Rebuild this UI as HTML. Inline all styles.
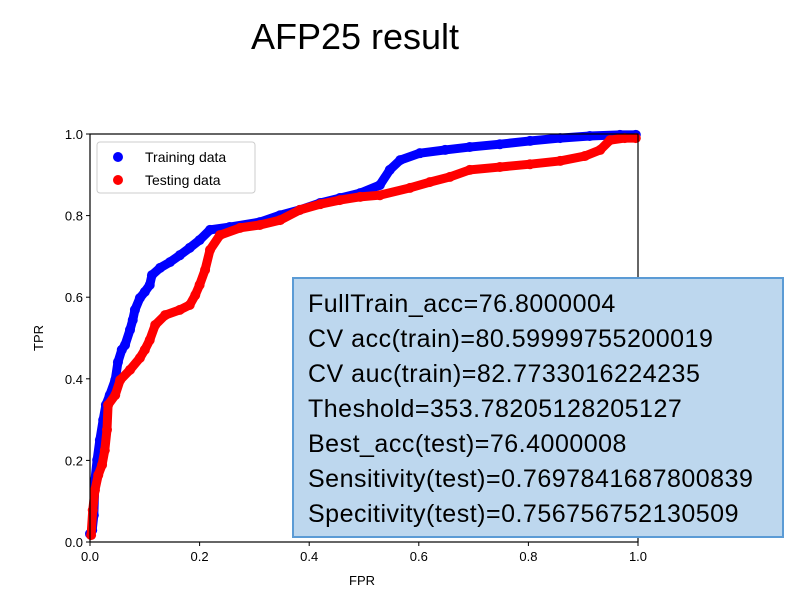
<!DOCTYPE html>
<html><head><meta charset="utf-8"><style>
body{margin:0;background:#fff;}
#wrap{position:relative;width:787px;height:600px;overflow:hidden;font-family:"Liberation Sans",sans-serif;}
#title{position:absolute;left:0;width:710px;top:16px;text-align:center;font-size:36px;color:#000;}
#box{position:absolute;left:292px;top:277px;width:492px;height:261px;background:#bdd7ee;border:2px solid #5b9bd5;box-sizing:border-box;padding:8px 0 0 14px;font-size:25px;letter-spacing:0.5px;line-height:35px;color:#000;white-space:nowrap;}
</style></head><body>
<div id="wrap">
<div id="title">AFP25 result</div>
<svg id="chart" width="787" height="600" style="position:absolute;left:0;top:0"></svg>
<div id="box">
<div>FullTrain_acc=76.8000004</div>
<div>CV acc(train)=80.59999755200019</div>
<div>CV auc(train)=82.7733016224235</div>
<div>Theshold=353.78205128205127</div>
<div>Best_acc(test)=76.4000008</div>
<div>Sensitivity(test)=0.7697841687800839</div>
<div>Specitivity(test)=0.756756752130509</div>
</div>
</div>
<script>
const trainFPR=[0,0.004,0.007,0.009,0.013,0.018,0.024,0.029,0.036,0.046,0.051,0.058,0.064,0.073,0.078,0.082,0.091,0.1,0.109,0.113,0.128,0.146,0.164,0.182,0.2,0.219,0.255,0.31,0.347,0.383,0.42,0.456,0.493,0.529,0.547,0.566,0.602,0.648,0.693,0.748,0.803,0.858,0.912,0.967,0.996];
const trainTPR=[0.02,0.029,0.066,0.152,0.201,0.25,0.299,0.336,0.36,0.397,0.441,0.471,0.483,0.52,0.544,0.569,0.598,0.613,0.63,0.654,0.672,0.686,0.703,0.721,0.74,0.765,0.772,0.784,0.801,0.814,0.831,0.843,0.855,0.875,0.912,0.936,0.953,0.961,0.968,0.975,0.983,0.99,0.995,0.998,0.998];
const testFPR=[0.002,0.005,0.009,0.015,0.022,0.027,0.031,0.033,0.046,0.055,0.073,0.091,0.1,0.109,0.119,0.137,0.164,0.182,0.192,0.2,0.21,0.219,0.237,0.274,0.31,0.347,0.383,0.42,0.456,0.493,0.529,0.584,0.62,0.657,0.693,0.748,0.803,0.858,0.903,0.931,0.949,0.976,0.996];
const testTPR=[0.017,0.078,0.127,0.164,0.189,0.225,0.275,0.336,0.36,0.397,0.422,0.451,0.471,0.495,0.532,0.556,0.569,0.581,0.605,0.63,0.667,0.716,0.752,0.77,0.777,0.789,0.814,0.828,0.838,0.846,0.85,0.868,0.882,0.895,0.912,0.919,0.926,0.934,0.946,0.961,0.985,0.99,0.99];
const xTicks=[0,0.2,0.4,0.6,0.8,1.0];
const yTicks=[0,0.2,0.4,0.6,0.8,1.0];
const tickLabels=["0.0","0.2","0.4","0.6","0.8","1.0"];
const NS="http://www.w3.org/2000/svg";
const svg=document.getElementById('chart');
const X0=90,X1=638,Y0=542,Y1=134;
const sx=v=>X0+v*(X1-X0), sy=v=>Y0-v*(Y0-Y1);
function mk(t,a,p){const e=document.createElementNS(NS,t);for(const k in a)e.setAttribute(k,a[k]);(p||svg).appendChild(e);return e;}
function series(xs,ys,col,name){
  const g=mk('g',{});
  
  
  mk('polyline',{points:xs.map((x,i)=>sx(x)+','+sy(ys[i])).join(' '),fill:'none',stroke:col,'stroke-width':9,'stroke-linecap':'round','stroke-linejoin':'round'},g);
  xs.forEach((x,i)=>{const c=mk('circle',{cx:sx(x),cy:sy(ys[i]),r:5,fill:col},g);
    
    });
}
series(trainFPR,trainTPR,'#0000ff','training-series');
series(testFPR,testTPR,'#ff0000','testing-series');
const fr=mk('rect',{x:X0,y:Y1,width:X1-X0,height:Y0-Y1,fill:'none',stroke:'#000','stroke-width':1.2});


xTicks.forEach((v,i)=>{mk('line',{x1:sx(v),x2:sx(v),y1:Y0,y2:Y0+4,stroke:'#000'});
  const t=mk('text',{x:sx(v),y:Y0+19,'text-anchor':'middle','font-size':13,fill:'#000'});t.textContent=tickLabels[i];
  
  });
yTicks.forEach((v,i)=>{mk('line',{x1:X0-4,x2:X0,y1:sy(v),y2:sy(v),stroke:'#000'});
  const t=mk('text',{x:X0-7,y:sy(v)+5,'text-anchor':'end','font-size':13,fill:'#000'});t.textContent=tickLabels[i];
  
  });
const xl=mk('text',{x:362,y:585,'text-anchor':'middle','font-size':13});xl.textContent='FPR';


const yl=mk('text',{x:43,y:338,'text-anchor':'middle','font-size':13,transform:'rotate(-90 43 338)'});yl.textContent='TPR';


const lg=mk('g',{});


mk('rect',{x:97,y:142,width:158,height:51,rx:3,fill:'#fff',stroke:'#ccc'},lg);
[['Training data','#0000ff',157],['Testing data','#ff0000',180]].forEach(([n,c,y])=>{
  const e=mk('g',{},lg);
  
  
  mk('circle',{cx:118,cy:y,r:5,fill:c},e);
  const t=mk('text',{x:145,y:y+5,'font-size':14,fill:'#000'},e);t.textContent=n;
});
</script>
</body></html>
